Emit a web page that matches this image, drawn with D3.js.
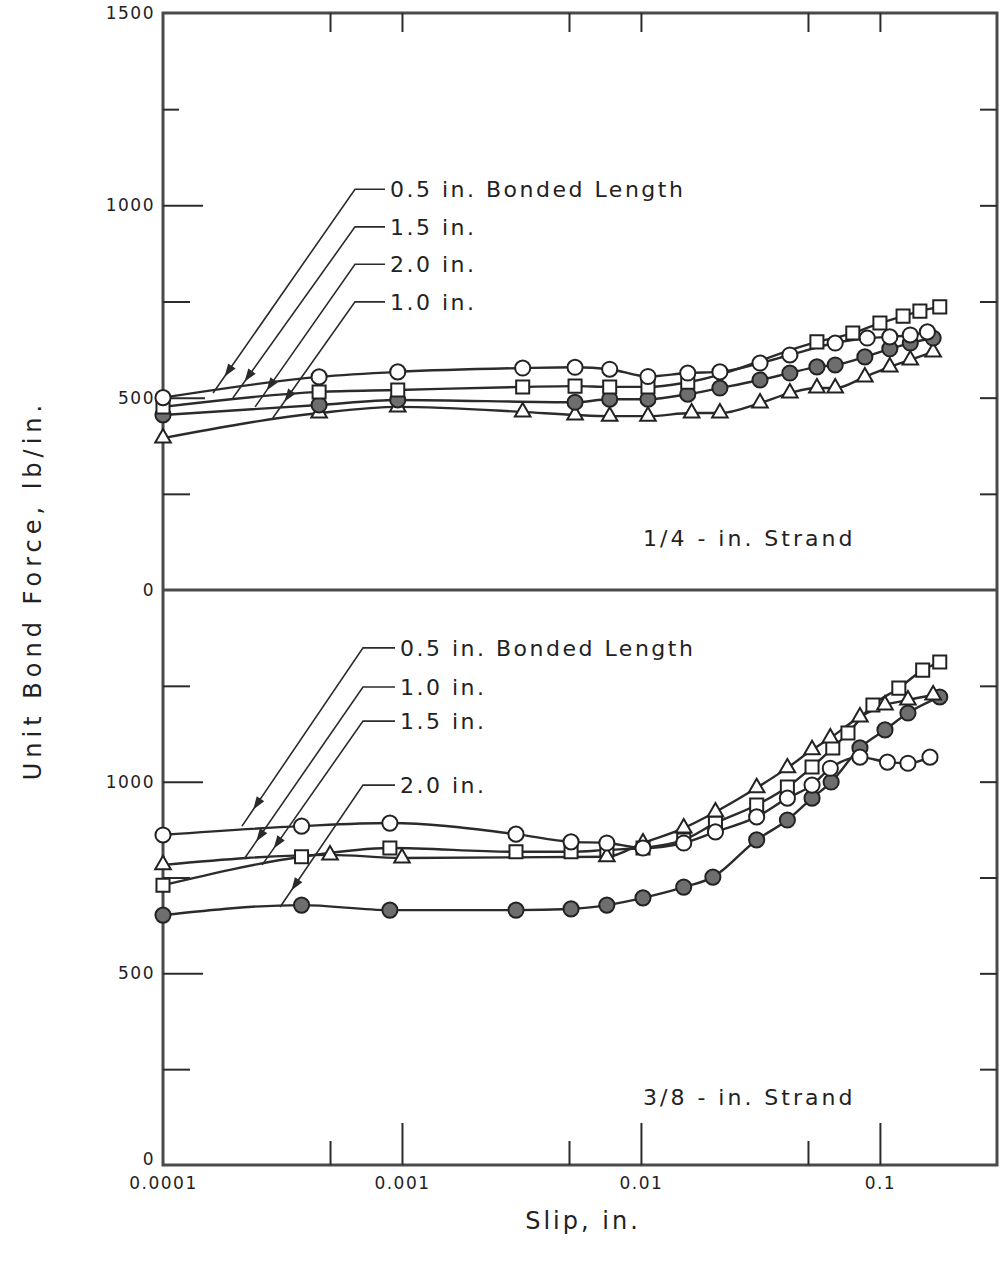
<!DOCTYPE html>
<html><head><meta charset="utf-8">
<script src="https://cdn.jsdelivr.net/npm/d3@7"></script>
<style>
body{margin:0;background:#fff;}
text{font-family:"DejaVu Sans",sans-serif;fill:#222;}
</style></head>
<body><svg id="c" width="1000" height="1262"></svg>
<script>
// ---------- data (slip in., unit bond force lb/in.) ----------
// 1/4-in. strand
const topHalfIn  = [[0.0001,500],[0.00045,554],[0.00096,567],[0.0032,577],[0.0053,579],[0.0074,574],[0.0107,555],[0.0157,564],[0.0214,567],[0.0315,590],[0.042,611],[0.065,642],[0.0885,655],[0.11,658],[0.134,663],[0.158,671]];
const topOneIn   = [[0.0001,395],[0.00045,460],[0.00096,476],[0.0032,463],[0.0053,455],[0.0074,452],[0.0107,452],[0.0163,460],[0.0214,460],[0.0315,486],[0.042,512],[0.0545,525],[0.065,525],[0.0865,554],[0.11,580],[0.134,598],[0.167,619]];
const topOneHalf = [[0.0001,476],[0.00045,515],[0.00096,520],[0.0032,528],[0.0053,530],[0.0074,528],[0.0107,528],[0.0157,540],[0.0545,645],[0.077,668],[0.1,694],[0.125,712],[0.147,725],[0.178,736]];
const topTwoIn   = [[0.0001,455],[0.00045,481],[0.00096,494],[0.0053,488],[0.0074,496],[0.0107,496],[0.0157,509],[0.0214,525],[0.0315,546],[0.042,564],[0.0545,580],[0.065,585],[0.0865,606],[0.11,627],[0.134,642],[0.167,655]];
// 3/8-in. strand
const botHalfIn  = [[0.0001,861],[0.00038,884],[0.00089,892],[0.003,863],[0.0051,843],[0.0072,840],[0.0102,827],[0.0151,840],[0.0205,869],[0.0305,908],[0.041,957],[0.052,991],[0.062,1035],[0.0825,1064],[0.1075,1051],[0.131,1048],[0.162,1064]];
const botOneIn   = [[0.0001,783],[0.0005,809],[0.001,801],[0.0072,804],[0.0102,840],[0.0151,879],[0.0205,921],[0.0305,984],[0.041,1036],[0.052,1083],[0.062,1114],[0.0825,1169],[0.105,1200],[0.131,1213],[0.167,1226]];
const botOneHalf = [[0.0001,730],[0.00038,804],[0.00089,827],[0.003,817],[0.0051,817],[0.0072,822],[0.0102,827],[0.0151,848],[0.0205,892],[0.0305,939],[0.041,986],[0.052,1038],[0.0635,1088],[0.0735,1127],[0.0935,1200],[0.12,1244],[0.151,1291],[0.178,1312]];
const botTwoIn   = [[0.0001,652],[0.00038,678],[0.00089,665],[0.003,665],[0.0051,668],[0.0072,678],[0.0102,697],[0.0151,725],[0.02,751],[0.0305,848],[0.041,900],[0.052,957],[0.0625,999],[0.0825,1088],[0.105,1135],[0.131,1179],[0.178,1221]];

const xMajorTicks = [0.001,0.01,0.1];
const xMinorTicks = [0.0005,0.005,0.05];
const xTickLabels = [0.0001,0.001,0.01,0.1];
const yTickLabelsTop = [0,500,1000,1500];
const yTickLabelsBot = [0,500,1000];
const yTicksAll = [250,500,750,1000,1250];

const topLegend = [
  {text:"0.5 in. Bonded Length", labelF:1042, tip:[0.000162,512]},
  {text:"1.5 in.", labelF:944, tip:[0.000196,499]},
  {text:"2.0 in.", labelF:847, tip:[0.000243,476]},
  {text:"1.0 in.", labelF:749, tip:[0.000288,447]}
];
const botLegend = [
  {text:"0.5 in. Bonded Length", labelF:1349, tip:[0.000214,884]},
  {text:"1.0 in.", labelF:1247, tip:[0.00022,801]},
  {text:"1.5 in.", labelF:1158, tip:[0.00026,783]},
  {text:"2.0 in.", labelF:991, tip:[0.000309,673]}
];

// ---------- layout ----------
const svg = d3.select("#c");
const L=163, R=997, T=13, M=590, B=1165;
const x = d3.scaleLog().domain([1e-4,0.309]).range([L,R]);
const yTop = d3.scaleLinear().domain([0,1500]).range([M,T]);
const yBot = d3.scaleLinear().domain([0,1500]).range([B,M]);
const ink="#2b2b2b";

// frame
svg.append("rect").attr("x",L).attr("y",T).attr("width",R-L).attr("height",B-T)
  .attr("fill","none").attr("stroke","#4a4a4a").attr("stroke-width",3);
svg.append("line").attr("x1",L).attr("x2",R).attr("y1",M).attr("y2",M)
  .attr("stroke","#4a4a4a").attr("stroke-width",3);

function cleanAxis(g){ g.select(".domain").remove(); g.selectAll("line").attr("stroke",ink).attr("stroke-width",2); }
function labelStyle(g){
  g.select(".domain").remove();
  g.selectAll("text").style("font-family","DejaVu Sans").attr("font-size",17).attr("fill","#222").style("letter-spacing","1.5px");
}

// x ticks (bottom, inward)
svg.append("g").attr("transform",`translate(0,${B})`)
  .call(d3.axisBottom(x).tickValues(xMajorTicks).tickSizeInner(-42).tickFormat(""))
  .call(cleanAxis);
svg.append("g").attr("transform",`translate(0,${B})`)
  .call(d3.axisBottom(x).tickValues(xMinorTicks).tickSizeInner(-24).tickFormat(""))
  .call(cleanAxis);
// x ticks (top edge)
svg.append("g").attr("transform",`translate(0,${T})`)
  .call(d3.axisTop(x).tickValues(xMinorTicks.concat(xMajorTicks)).tickSizeInner(-19).tickFormat(""))
  .call(cleanAxis);
// x labels
svg.append("g").attr("transform",`translate(0,${B})`)
  .call(d3.axisBottom(x).tickValues(xTickLabels).tickSize(0).tickPadding(12).tickFormat(d=>String(d)))
  .call(labelStyle);

// y axes per panel
function yAxes(y, labels, tickLen, lift0){
  svg.append("g").attr("transform",`translate(${L},0)`)
    .call(d3.axisRight(y).tickValues(yTicksAll).tickSizeInner(0).tickFormat(""))
    .call(g=>{g.select(".domain").remove();
      g.selectAll(".tick line").attr("x2",d=>tickLen[d]).attr("stroke",ink).attr("stroke-width",2);});
  svg.append("g").attr("transform",`translate(${R},0)`)
    .call(d3.axisLeft(y).tickValues(yTicksAll).tickSizeInner(17).tickFormat(""))
    .call(cleanAxis);
  svg.append("g").attr("transform",`translate(${L},0)`)
    .call(d3.axisLeft(y).tickValues(labels).tickSize(0).tickPadding(8).tickFormat(d=>String(d)))
    .call(labelStyle)
    .call(g=>{ if(lift0) g.selectAll(".tick").filter(d=>d===0).select("text").attr("dy","-0.05em"); });
}
yAxes(yTop, yTickLabelsTop, {250:27,500:42,750:27,1000:40,1250:16}, false);
yAxes(yBot, yTickLabelsBot, {250:27,500:40,750:27,1000:40,1250:27}, true);

// series
function panel(y, series){
  const line = d3.line().x(d=>x(d[0])).y(d=>y(d[1])).curve(d3.curveMonotoneX);
  series.forEach(s=>{
    svg.append("path").datum(s.data).attr("d",line).attr("fill","none")
      .attr("stroke",ink).attr("stroke-width",2.4);
  });
  series.forEach(s=>{
    svg.append("g").selectAll("path").data(s.data).join("path")
      .attr("transform",d=>`translate(${x(d[0])},${y(d[1])})`)
      .attr("d",d3.symbol().type(s.type).size(s.size))
      .attr("fill",s.fill).attr("stroke","#222").attr("stroke-width",2);
  });
}
panel(yTop,[
  {data:topOneIn,type:d3.symbolTriangle,size:105,fill:"#fff"},
  {data:topTwoIn,type:d3.symbolCircle,size:180,fill:"#6e6e6e"},
  {data:topOneHalf,type:d3.symbolSquare,size:170,fill:"#fff"},
  {data:topHalfIn,type:d3.symbolCircle,size:180,fill:"#fff"}
]);
panel(yBot,[
  {data:botTwoIn,type:d3.symbolCircle,size:180,fill:"#6e6e6e"},
  {data:botOneHalf,type:d3.symbolSquare,size:170,fill:"#fff"},
  {data:botOneIn,type:d3.symbolTriangle,size:105,fill:"#fff"},
  {data:botHalfIn,type:d3.symbolCircle,size:180,fill:"#fff"}
]);

// legends with leader lines
function legend(y, items, cornerX, textX){
  items.forEach(it=>{
    const ly=y(it.labelF), tx=x(it.tip[0]), ty=y(it.tip[1]);
    svg.append("path").attr("d",`M${textX-5},${ly}H${cornerX}L${tx},${ty}`)
      .attr("fill","none").attr("stroke",ink).attr("stroke-width",1.6);
    const dx=tx-cornerX, dy=ty-ly, len=Math.hypot(dx,dy), ux=dx/len, uy=dy/len;
    const px=tx-ux*20, py=ty-uy*20, bx=px-ux*13, by=py-uy*13;
    svg.append("path").attr("d",`M${px},${py}L${bx-uy*4.5},${by+ux*4.5}L${bx+uy*4.5},${by-ux*4.5}Z`)
      .attr("fill",ink);
    svg.append("text").attr("x",textX).attr("y",ly).attr("dy","0.36em")
      .attr("font-size",22).style("letter-spacing","2.5px").text(it.text);
  });
}
legend(yTop, topLegend, 355, 390);
legend(yBot, botLegend, 363, 400);

// panel titles
svg.append("text").attr("x",643).attr("y",538).attr("dy","0.36em").attr("font-size",22)
  .style("letter-spacing","3px").text("1/4 - in. Strand");
svg.append("text").attr("x",643).attr("y",1097).attr("dy","0.36em").attr("font-size",22)
  .style("letter-spacing","3px").text("3/8 - in. Strand");

// axis titles
svg.append("text").attr("transform","translate(32,590) rotate(-90)").attr("text-anchor","middle")
  .attr("dy","0.36em").attr("font-size",24).style("letter-spacing","5px").text("Unit Bond Force, lb/in.");
svg.append("text").attr("x",583).attr("y",1220).attr("text-anchor","middle").attr("dy","0.36em")
  .attr("font-size",24).style("letter-spacing","3px").text("Slip, in.");
</script></body></html>
